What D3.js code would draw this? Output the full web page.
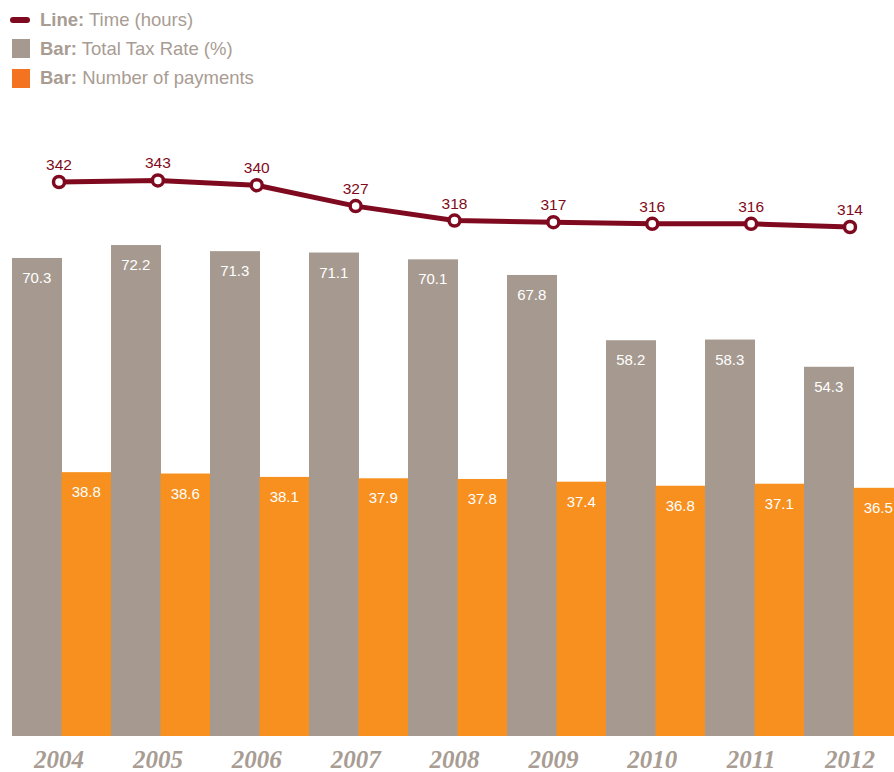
<!DOCTYPE html>
<html>
<head>
<meta charset="utf-8">
<script src="https://cdn.jsdelivr.net/npm/d3@7"></script>
<style>
  body { margin: 0; background: #fff; }
  svg { display: block; }
</style>
</head>
<body>
<div id="chart"></div>
<script>
// chart values
const years = ['2004', '2005', '2006', '2007', '2008', '2009', '2010', '2011', '2012'];
const taxRate = [70.3, 72.2, 71.3, 71.1, 70.1, 67.8, 58.2, 58.3, 54.3];
const payments = [38.8, 38.6, 38.1, 37.9, 37.8, 37.4, 36.8, 37.1, 36.5];
const hours = [342, 343, 340, 327, 318, 317, 316, 316, 314];

const width = 894;
const height = 772;

const grayColor = '#a69a90';
const orangeColor = '#f7901e';
const lineColor = '#7f0a20';
const textGray = '#a89c93';

const svg = d3.select('#chart').append('svg')
  .attr('width', width)
  .attr('height', height);

/* Scales */
const x = d3.scaleBand()
  .domain(years)
  .range([12, 12 + 99 * years.length])
  .padding(0);

const xInner = d3.scaleBand()
  .domain(['tax', 'pay'])
  .range([0, x.bandwidth()]);

const y = d3.scaleLinear()
  .domain([0, 100])
  .range([736, 56]);

const xLine = d3.scalePoint()
  .domain(years)
  .range([59, 850]);

const yLine = d3.scaleLinear()
  .domain([314, 342])
  .range([227, 182]);

/* Bars */
const groups = svg.append('g').attr('class', 'bars')
  .selectAll('g')
  .data(years)
  .enter().append('g')
  .attr('transform', d => `translate(${x(d)},0)`);

groups.append('rect')
  .attr('x', xInner('tax'))
  .attr('width', xInner.bandwidth() + 0.5)
  .attr('y', (d, i) => y(taxRate[i]))
  .attr('height', (d, i) => y(0) - y(taxRate[i]))
  .attr('fill', grayColor);

groups.append('rect')
  .attr('x', xInner('pay'))
  .attr('width', xInner.bandwidth() + 0.5)
  .attr('y', (d, i) => y(payments[i]))
  .attr('height', (d, i) => y(0) - y(payments[i]))
  .attr('fill', orangeColor);

groups.append('text')
  .attr('x', xInner('tax') + xInner.bandwidth() / 2)
  .attr('y', (d, i) => y(taxRate[i]) + 25)
  .attr('text-anchor', 'middle')
  .attr('fill', '#fff')
  .style('font', '15px "Liberation Sans", Arial, sans-serif')
  .text((d, i) => taxRate[i].toFixed(1));

groups.append('text')
  .attr('x', xInner('pay') + xInner.bandwidth() / 2)
  .attr('y', (d, i) => y(payments[i]) + 25)
  .attr('text-anchor', 'middle')
  .attr('fill', '#fff')
  .style('font', '15px "Liberation Sans", Arial, sans-serif')
  .text((d, i) => payments[i].toFixed(1));

/* Line */
const line = d3.line()
  .x((d, i) => xLine(years[i]))
  .y(d => yLine(d));

svg.append('path')
  .datum(hours)
  .attr('d', line)
  .attr('fill', 'none')
  .attr('stroke', lineColor)
  .attr('stroke-width', 5)
  .attr('stroke-linejoin', 'round');

svg.append('g').selectAll('circle')
  .data(hours)
  .enter().append('circle')
  .attr('cx', (d, i) => xLine(years[i]))
  .attr('cy', d => yLine(d))
  .attr('r', 5.5)
  .attr('fill', '#fff')
  .attr('stroke', lineColor)
  .attr('stroke-width', 3.5);

svg.append('g').selectAll('text')
  .data(hours)
  .enter().append('text')
  .attr('x', (d, i) => xLine(years[i]))
  .attr('y', d => yLine(d) - 12)
  .attr('text-anchor', 'middle')
  .attr('fill', lineColor)
  .style('font', '15.5px "Liberation Sans", Arial, sans-serif')
  .text(d => d);

/* Year labels */
svg.append('g').selectAll('text')
  .data(years)
  .enter().append('text')
  .attr('x', d => xLine(d))
  .attr('y', 768)
  .attr('text-anchor', 'middle')
  .attr('fill', textGray)
  .style('font', 'italic bold 25px "Liberation Serif", "Times New Roman", serif')
  .text(d => d);

/* Legend */
const legend = svg.append('g').attr('class', 'legend')
  .style('font', '18.5px "Liberation Sans", Arial, sans-serif');

legend.append('line')
  .attr('x1', 13).attr('x2', 27)
  .attr('y1', 20).attr('y2', 20)
  .attr('stroke', lineColor)
  .attr('stroke-width', 6)
  .attr('stroke-linecap', 'round');

legend.append('rect')
  .attr('x', 12).attr('y', 39)
  .attr('width', 18).attr('height', 19)
  .attr('fill', grayColor);

legend.append('rect')
  .attr('x', 12).attr('y', 69)
  .attr('width', 18).attr('height', 19)
  .attr('fill', '#f47321');

const legendItems = [
  ['Line:', ' Time (hours)', 26],
  ['Bar:', ' Total Tax Rate (%)', 55],
  ['Bar:', ' Number of payments', 84]
];

legendItems.forEach(item => {
  const t = legend.append('text')
    .attr('x', 40)
    .attr('y', item[2])
    .attr('fill', textGray);
  t.append('tspan').style('font-weight', 'bold').text(item[0]);
  t.append('tspan').text(item[1]);
});
</script>
</body>
</html>
